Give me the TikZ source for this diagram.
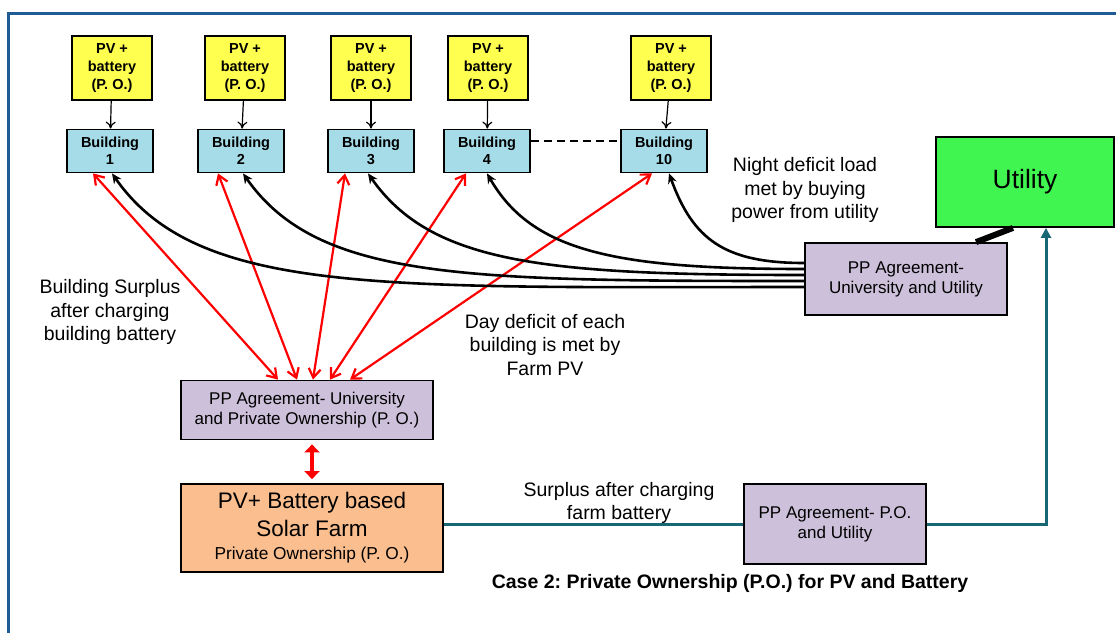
\documentclass[tikz,border=0pt]{standalone}
\usepackage{fontspec}
\setmainfont{Liberation Sans}
\usetikzlibrary{arrows.meta}
\frenchspacing

\definecolor{pvyellow}{RGB}{255,255,80}
\definecolor{bldblue}{RGB}{166,220,232}
\definecolor{pplilac}{RGB}{204,192,218}
\definecolor{farmorange}{RGB}{250,190,143}
\definecolor{utilgreen}{RGB}{64,245,80}
\definecolor{lineteal}{RGB}{23,104,116}
\definecolor{frameblue}{RGB}{31,92,150}

\begin{document}
\begin{tikzpicture}[x=1pt,y=-1pt,
  pvbox/.style={draw,line width=1.8pt,fill=pvyellow,minimum width=80pt,minimum height=64pt,
    inner sep=0pt,align=center,font=\fontsize{14.5}{18}\selectfont\bfseries},
  bldbox/.style={draw,line width=1.8pt,fill=bldblue,minimum width=86pt,minimum height=43pt,
    inner sep=0pt,align=center,font=\fontsize{14.5}{17}\selectfont\bfseries},
  ppbox/.style={draw,line width=1.8pt,fill=pplilac,inner sep=0pt,align=center,
    font=\fontsize{17}{20}\selectfont},
  notetext/.style={align=center,font=\fontsize{19.5}{23.5}\selectfont},
  feed/.style={-{To[length=7pt,width=10pt]},line width=1.2pt},
  share/.style={{Straight Barb[length=9pt,width=12pt]}-{Straight Barb[length=9pt,width=12pt]},
    draw=red,line width=2.2pt},
  buy/.style={-{Stealth[length=10pt,width=9pt]},line width=2.6pt},
  sell/.style={draw=lineteal,line width=3pt}]
\useasboundingbox (0,0) rectangle (1116,633);
\draw[frameblue,line width=3pt] (8,633) -- (8,13) -- (1116,13);

% rooftop systems and buildings
\node[pvbox] (pv1) at (112,68) {PV +\\battery\\(P. O.)};
\node[pvbox] (pv2) at (245,68) {PV +\\battery\\(P. O.)};
\node[pvbox] (pv3) at (371,68) {PV +\\battery\\(P. O.)};
\node[pvbox] (pv4) at (488,68) {PV +\\battery\\(P. O.)};
\node[pvbox] (pv10) at (671,68) {PV +\\battery\\(P. O.)};

\node[bldbox] (b1) at (110,151) {Building\\1};
\node[bldbox] (b2) at (241,151) {Building\\2};
\node[bldbox] (b3) at (371,151) {Building\\3};
\node[bldbox] (b4) at (487,151) {Building\\4};
\node[bldbox] (b10) at (664,151) {Building\\10};

\draw[feed] (pv1) -- (b1);
\draw[feed] (pv2) -- (b2);
\draw[feed] (pv3) -- (b3);
\draw[feed] (pv4) -- (b4);
\draw[feed] (pv10) -- (b10);
\draw[dashed,dash pattern=on 8pt off 5pt,line width=1.4pt] ([yshift=10pt]b4.east) -- ([yshift=10pt]b10.west);

% agreements, farm and utility
\node[ppbox,minimum width=252pt,minimum height=59pt] (ppuo) at (307,410)
  {PP Agreement- University\\and Private Ownership (P. O.)};
\node[draw,line width=1.8pt,fill=farmorange,minimum width=262pt,minimum height=88pt,
  inner sep=0pt,align=center,font=\fontsize{22.5}{28}\selectfont] (farm) at (312,528)
  {PV+ Battery based\\Solar Farm\\[-5pt]{\fontsize{17.3}{20}\selectfont Private Ownership (P. O.)}};
\node[ppbox,minimum width=202pt,minimum height=72pt] (ppuu) at (906,279)
  {PP Agreement-\\University and Utility};
\node[ppbox,minimum width=182pt,minimum height=80pt] (ppou) at (835,524)
  {PP Agreement- P.O.\\and Utility};
\node[draw,line width=1.8pt,fill=utilgreen,minimum width=178pt,minimum height=90pt,
  font=\fontsize{26.5}{30}\selectfont] (util) at (1025,182) {Utility};

% texts
\node[notetext] (night) at (805,190) {Night deficit load\\met by buying\\power from utility};
\node[notetext] (bsurplus) at (110,312) {Building Surplus\\after charging\\building battery};
\node[notetext] (daydef) at (545,345) {Day deficit of each\\building is met by\\Farm PV};
\node[notetext] (fsurplus) at (619,503) {Surplus after charging\\farm battery};
\node[font=\fontsize{19.5}{23}\selectfont\bfseries] (case) at (730,583)
  {Case 2: Private Ownership (P.O.) for PV and Battery};

% day exchange with the farm
\draw[share] ([xshift=-29pt]ppuo.north) -- ([xshift=-17pt]b1.south);
\draw[share] ([xshift=-10pt]ppuo.north) -- ([xshift=-23pt]b2.south);
\draw[share] ([xshift=6pt]ppuo.north) -- ([xshift=-26pt]b3.south);
\draw[share] ([xshift=23pt]ppuo.north) -- ([xshift=-21pt]b4.south);
\draw[share] ([xshift=43pt]ppuo.north) -- ([xshift=-12pt]b10.south);
\draw[red,line width=4pt,{Triangle[length=8pt,width=15pt]}-{Triangle[length=8pt,width=15pt]}]
  ([xshift=5pt,yshift=-4pt]ppuo.south) -- ([xshift=0pt,yshift=4pt]farm.north);

% night supply from the utility
\draw[buy] ([yshift=-8pt]ppuu.west) to[out=180,in=-55,out distance=420pt,in distance=150pt] ([xshift=2pt]b1.south);
\draw[buy] ([yshift=-2pt]ppuu.west) to[out=180,in=-55,out distance=340pt,in distance=130pt] ([xshift=2pt]b2.south);
\draw[buy] ([yshift=4pt]ppuu.west) to[out=180,in=-55,out distance=260pt,in distance=110pt] ([xshift=-3pt]b3.south);
\draw[buy] ([yshift=10pt]ppuu.west) to[out=180,in=-60,out distance=190pt,in distance=90pt] (b4.south);
\draw[buy] ([yshift=16pt]ppuu.west) to[out=180,in=-70,out distance=80pt,in distance=70pt] ([xshift=5pt]b10.south);
\draw[line width=6pt] ([xshift=70pt]ppuu.north) -- ([xshift=-12pt]util.south);

% farm surplus to the utility
\draw[sell] (farm.east |- ppou.west) -- (ppou.west);
\draw[sell,-{Triangle[length=10pt,width=10pt]}] (ppou.east) -| (util.south -| 1046,0);
\end{tikzpicture}
\end{document}
